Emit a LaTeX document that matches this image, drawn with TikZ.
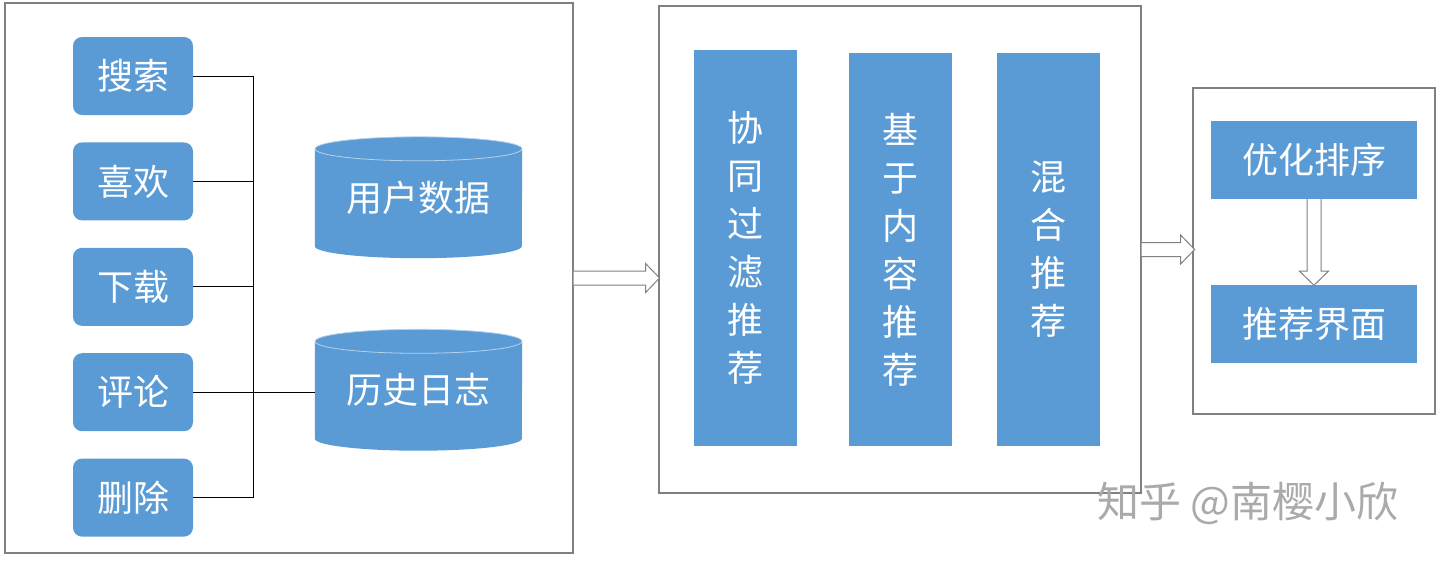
\documentclass[tikz,border=0pt]{standalone}
\usepackage{fontspec}
\setmainfont{Noto Sans CJK SC}
\usetikzlibrary{positioning,backgrounds}
\definecolor{boxblue}{RGB}{91,155,213}
\definecolor{framegray}{RGB}{128,128,128}
\definecolor{markgray}{RGB}{170,170,170}

% cylinder drawn round a text node
\newcommand{\drum}[1]{%
 \fill[boxblue] (#1.north west) -- (#1.south west)
   arc[start angle=180,end angle=360,x radius=103.5pt,y radius=12pt]
   -- (#1.north east)
   arc[start angle=0,end angle=180,x radius=103.5pt,y radius=12pt] -- cycle;
 \draw[white!55!boxblue,line width=0.8pt] (#1.north) ellipse[x radius=103.5pt,y radius=12pt];}

% hollow block arrow: start, length, angle
\newcommand{\fatarrow}[3]{%
 \draw[hollow,shift={(#1)},rotate=#3] (0,7) -- (#2-14,7) -- (#2-14,14.5) -- (#2,0)
   -- (#2-14,-14.5) -- (#2-14,-7) -- (0,-7);}

\begin{document}
\begin{tikzpicture}[x=1pt,y=-1pt,font=\fontsize{36}{48}\selectfont,
 panel/.style={draw=framegray,line width=1.2pt},
 btn/.style={fill=boxblue,text=white,rounded corners=9pt,minimum width=120pt,minimum height=78pt},
 col/.style={fill=boxblue,text=white,minimum width=103pt,align=center,inner sep=0pt},
 bar/.style={fill=boxblue,text=white,minimum width=206pt,minimum height=78pt},
 dbtxt/.style={text=white,minimum width=207pt,minimum height=97pt,inner sep=0pt},
 link/.style={draw=black,line width=1pt},
 hollow/.style={draw=framegray,line width=1pt,fill=white,line join=miter}]
\useasboundingbox (0,0) rectangle (1440,560);

% three frames
\node[panel,minimum width=568pt,minimum height=550pt] (panL) at (289,278) {};
\node[panel,minimum width=482pt,minimum height=487pt] (panM) at (900,249.5) {};
\node[panel,minimum width=242pt,minimum height=326pt] (panR) at (1314,251) {};

% user actions
\node[btn] (b1) at (133,76) {搜索};
\node[btn,below=27pt of b1] (b2) {喜欢};
\node[btn,below=27pt of b2] (b3) {下载};
\node[btn,below=27pt of b3] (b4) {评论};
\node[btn,below=27pt of b4] (b5) {删除};

\node[dbtxt] (db1) at (418.5,197.5) {用户数据};
\node[dbtxt] (db2) at (418.5,390) {历史日志};
\begin{scope}[on background layer]
\drum{db1}
\drum{db2}
\end{scope}

\coordinate (bus) at (253,0);
\draw[link] (b1.east) -- (b1.east -| bus) -- (b5.east -| bus) -- (b5.east);
\foreach \b in {b2,b3} \draw[link] (\b.east) -- (\b.east -| bus);
\draw[link] (b4.east) -- (b4.east -| db2.west);

% algorithms
\node[col,minimum height=396pt] (c1) at (745.5,248) {协\\同\\过\\滤\\推\\荐};
\node[col,minimum height=393pt] (c2) at (900.5,249.5) {基\\于\\内\\容\\推\\荐};
\node[col,minimum height=393pt] (c3) at (1048.5,249.5) {混\\合\\推\\荐};

% output
\node[bar] (p1) at (1314,160) {优化排序};
\node[bar,below=86pt of p1] (p2) {推荐界面};

\fatarrow{panL.east}{86}{0}
\fatarrow{panM.east}{53}{0}
\fatarrow{p1.south}{86}{-90}

\node[text=markgray,font=\fontsize{42}{42}\selectfont] (mark) at (1248,503) {知乎 @南樱小欣};
\end{tikzpicture}
\end{document}
